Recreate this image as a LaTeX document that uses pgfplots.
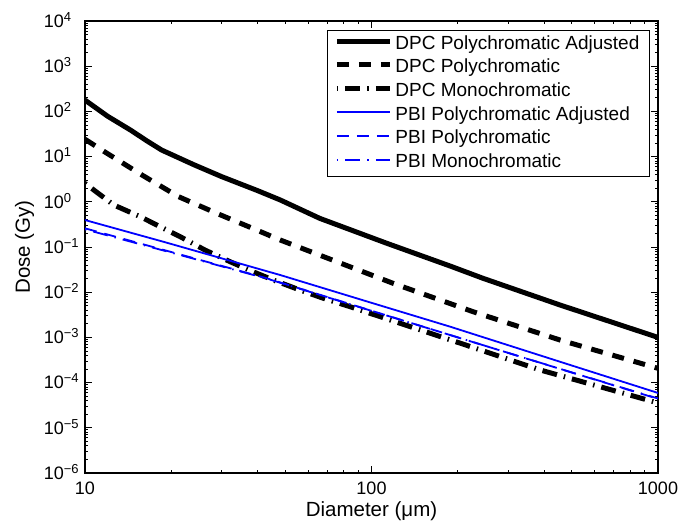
\documentclass[border=0pt]{standalone}
\usepackage{fontspec}
\setmainfont{Liberation Sans}
\usepackage{pgfplots}
\pgfplotsset{compat=1.18}
\definecolor{mblue}{RGB}{0,0,255}
\pgfplotsset{
  legend image code/.code={\draw[#1, line cap=butt] (0pt,0.32em) -- (53pt,0.32em);},
}
\newcommand{\tfont}{\fontsize{18}{22}\selectfont}
\newcommand{\lfont}{\fontsize{19}{23}\selectfont}
\newcommand{\afont}{\fontsize{20.5}{24}\selectfont}
\newcommand{\ee}[1]{10\rlap{\raisebox{6pt}{\fontsize{13}{14}\selectfont #1}}}
\begin{document}
\begin{tikzpicture}
\begin{axis}[
  scale only axis, width=573pt, height=452pt,
  xmode=log, ymode=log,
  xmin=10, xmax=1000, ymin=1e-6, ymax=1e4,
  xtick={10,100,1000}, xticklabels={10,100,1000},
  minor xtick={20,30,40,50,60,70,80,90,200,300,400,500,600,700,800,900},
  ytick={1e-6,1e-5,1e-4,1e-3,1e-2,1e-1,1,10,100,1000,10000},
  yticklabels={\ee{−6},\ee{−5},\ee{−4},\ee{−3},\ee{−2},\ee{−1},\ee{0},\ee{1},\ee{2},\ee{3},\ee{4}},
  minor ytick={2e-6,3e-6,4e-6,5e-6,6e-6,7e-6,8e-6,9e-6,
    2e-5,3e-5,4e-5,5e-5,6e-5,7e-5,8e-5,9e-5,
    2e-4,3e-4,4e-4,5e-4,6e-4,7e-4,8e-4,9e-4,
    2e-3,3e-3,4e-3,5e-3,6e-3,7e-3,8e-3,9e-3,
    2e-2,3e-2,4e-2,5e-2,6e-2,7e-2,8e-2,9e-2,
    0.2,0.3,0.4,0.5,0.6,0.7,0.8,0.9,
    2,3,4,5,6,7,8,9,
    20,30,40,50,60,70,80,90,
    200,300,400,500,600,700,800,900,
    2000,3000,4000,5000,6000,7000,8000,9000},
  xticklabel style={font=\tfont, anchor=base, inner sep=0pt, yshift=-22pt},
  yticklabel style={font=\tfont, anchor=base east, inner sep=0pt, xshift=-21pt, yshift=-6.4pt},
  xlabel={Diameter (μm)}, ylabel={Dose (Gy)},
  xlabel style={font=\afont, at={(axis description cs:0.5,-0.0973)}, anchor=base, inner sep=0pt},
  ylabel style={font=\afont, at={(axis description cs:-0.096,0.5)}, anchor=base, inner sep=0pt},
  axis line style={line width=1.2pt},
  major tick length=7pt, minor tick length=3.5pt,
  every tick/.style={black, line width=0.8pt},
  legend style={at={(0.986,0.980)}, anchor=north east, draw=black, line width=1.2pt,
    fill=white, font=\lfont, inner xsep=7pt, inner ysep=3pt, row sep=2.2pt,
    nodes={inner xsep=3pt, inner ysep=1.5pt, text height=14pt, text depth=4.5pt, anchor=west}},
  legend cell align=left,
]
\addplot[color=black, line width=5pt] coordinates {
  (10,178) (12,78) (14.4,38.8) (16.5,22) (18.5,14) (24,6.6) (30,3.6) (40,1.77) (48,1.10) (66,0.43) (113,0.121)
  (188,0.038) (245,0.0203) (455,0.00521) (1000,0.001)};
\addlegendentry{DPC Polychromatic Adjusted}
\addplot[color=black, line width=5pt, dash pattern=on 12pt off 10pt] coordinates {
  (10,24.2) (11.7,12.8) (15.8,3.92) (21.2,1.30) (28.8,0.557) (39.7,0.238)
  (48,0.143) (119,0.0157) (226,0.00371) (455,8.75e-4) (1000,2.07e-4)};
\addlegendentry{DPC Polychromatic}
\addplot[color=black, line width=5pt, dash pattern=on 1.5pt off 7pt on 15pt off 7pt] coordinates {
  (10,2.56) (12.6,0.849) (15.6,0.468) (18.3,0.281) (21.5,0.169) (26.2,0.0859)
  (32.1,0.0473) (38.6,0.0284) (45.4,0.0186) (56.2,0.0112) (67.9,0.00733)
  (84.1,0.00479) (209,7.08e-4) (387,1.91e-4) (1000,3.55e-5)};
\addlegendentry{DPC Monochromatic}
\addplot[color=mblue, line width=1.8pt] coordinates {
  (10,0.395) (18.75,0.131) (48,0.0240) (100,0.00582) (188,0.00173) (500,2.39e-4) (1000,5.9e-5)};
\addlegendentry{PBI Polychromatic Adjusted}
\addplot[color=mblue, line width=1.8pt, dash pattern=on 12pt off 8pt] coordinates {
  (10,0.259) (19.95,0.0778) (43.1,0.0203) (100,0.00389) (188,0.00113) (500,1.67e-4) (1000,4.37e-5)};
\addlegendentry{PBI Polychromatic}
\addplot[color=mblue, line width=1.8pt, dash pattern=on 1.5pt off 7pt on 15pt off 7pt] coordinates {
  (10,0.246) (19.95,0.0755) (43.1,0.0200) (100,0.00387) (188,0.00113) (500,1.68e-4) (1000,4.45e-5)};
\addlegendentry{PBI Monochromatic}
\end{axis}
\pgfresetboundingbox
\path ([shift={(-85pt,-54pt)}]current axis.south west) rectangle ([shift={(21pt,21pt)}]current axis.north east);
\end{tikzpicture}
\end{document}
